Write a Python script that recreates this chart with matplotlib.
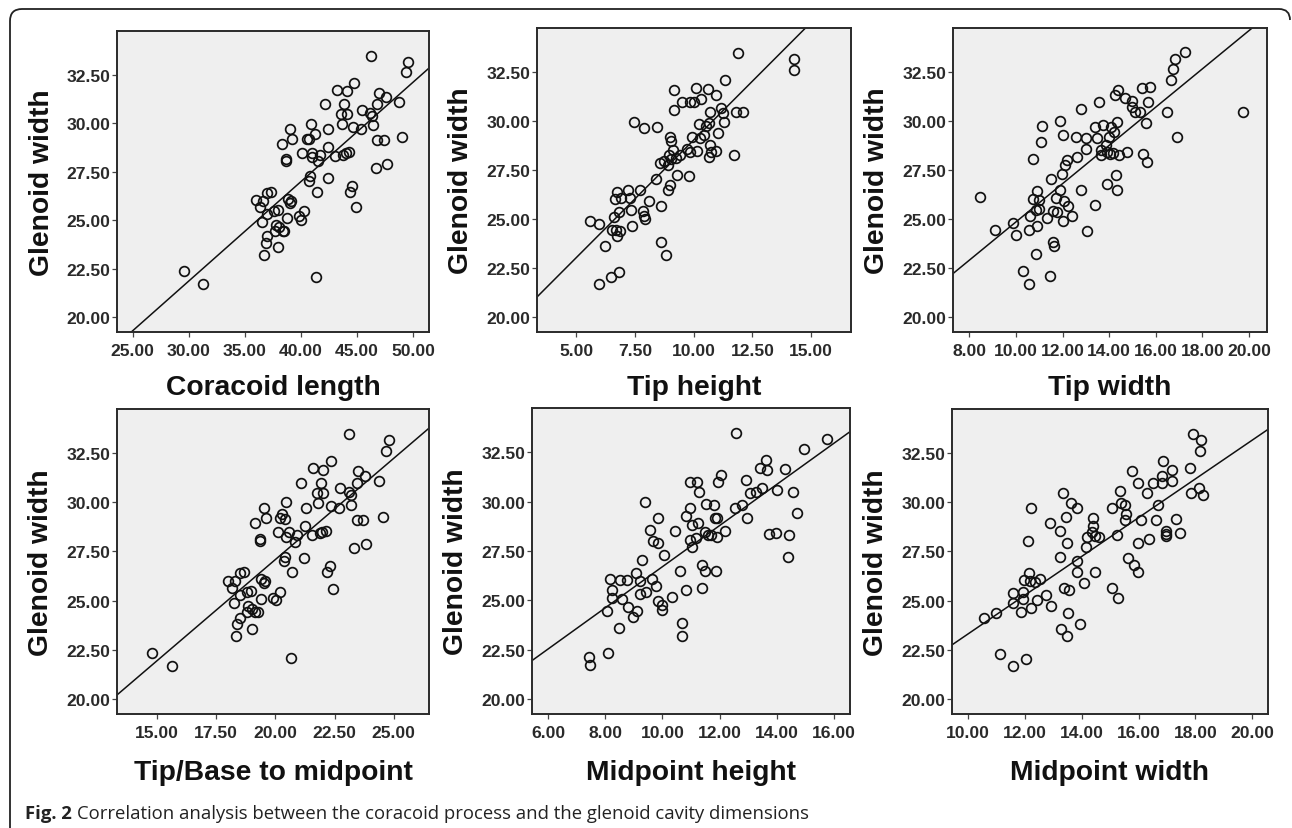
import matplotlib
matplotlib.use('Agg')
import matplotlib.pyplot as plt
import numpy as np
from matplotlib.path import Path
from matplotlib.patches import PathPatch

# Glenoid width vs coracoid dimensions
coracoid_length = [46.23, 49.49, 49.35, 44.71, 43.17, 44.12, 46.97, 47.53, 42.13, 43.82,
                   46.76, 48.75, 45.40, 43.53, 44.12, 46.14, 46.35, 43.62, 46.38, 44.65,
                   45.31, 40.91, 38.98, 42.43, 41.27, 40.50, 39.19, 40.71, 46.73, 47.42,
                   49.02, 38.27, 42.36, 40.12, 40.94, 41.69, 43.02, 43.76, 44.30, 44.00,
                   40.94, 41.47, 38.66, 38.66, 46.67, 47.62, 42.36, 40.80, 40.74, 44.56,
                   44.35, 41.39, 44.89, 35.96, 36.34, 36.64, 36.94, 37.29, 38.81, 39.10,
                   39.01, 37.59, 37.98, 36.94, 40.26, 39.82, 40.00, 38.75, 36.49, 37.74,
                   38.07, 37.68, 38.36, 38.51, 36.94, 36.85, 37.98, 36.73, 29.60, 31.29,
                   41.33]
gw_coracoid = [33.44, 33.13, 32.62, 32.07, 31.70, 31.64, 31.56, 31.35, 30.98, 30.99,
               30.99, 31.11, 30.70, 30.45, 30.45, 30.50, 30.39, 29.93, 29.88, 29.80,
               29.71, 29.98, 29.71, 29.68, 29.42, 29.16, 29.16, 29.16, 29.13, 29.13,
               29.28, 28.94, 28.79, 28.48, 28.48, 28.34, 28.31, 28.36, 28.53, 28.45,
               28.27, 28.05, 28.17, 28.05, 27.71, 27.91, 27.19, 27.28, 27.02, 26.77,
               26.47, 26.47, 25.65, 26.03, 25.70, 26.00, 26.39, 26.47, 26.11, 26.00,
               25.87, 25.48, 25.53, 25.31, 25.48, 25.19, 25.02, 25.10, 24.92, 24.74,
               24.62, 24.45, 24.42, 24.45, 24.16, 23.82, 23.60, 23.20, 22.35, 21.68,
               22.07]

tip_height = [11.87, 14.25, 14.28, 11.33, 9.15, 10.09, 10.61, 10.95, 9.50, 9.86,
              10.00, 10.31, 11.16, 11.24, 10.68, 9.18, 11.81, 12.10, 7.48, 7.88,
              8.44, 11.30, 10.21, 10.54, 10.64, 11.03, 8.98, 9.04, 9.93, 10.25,
              10.45, 10.68, 10.96, 10.75, 10.64, 10.14, 9.83, 9.72, 9.12, 9.40,
              9.26, 9.04, 8.94, 11.73, 8.75, 8.58, 8.90, 9.29, 9.79, 8.39,
              8.98, 8.89, 7.71, 7.22, 6.74, 7.31, 6.64, 6.91, 8.09, 8.63,
              7.35, 7.85, 7.90, 7.95, 6.84, 6.60, 5.61, 5.99, 7.39, 6.53,
              6.71, 6.86, 6.74, 6.25, 8.61, 8.82, 6.84, 6.50, 5.96]
gw_tip_height = [33.48, 33.17, 32.62, 32.09, 31.59, 31.71, 31.64, 31.34, 30.99, 30.99,
                 30.96, 31.11, 30.68, 30.39, 30.45, 30.57, 30.45, 30.45, 29.97, 29.67,
                 29.71, 29.97, 29.83, 29.76, 29.88, 29.40, 29.20, 28.97, 29.20, 29.11,
                 29.28, 28.80, 28.48, 28.42, 28.17, 28.46, 28.42, 28.56, 28.51, 28.25,
                 28.12, 28.08, 28.29, 28.29, 27.96, 27.88, 27.74, 27.23, 27.19, 27.02,
                 26.75, 26.46, 26.46, 26.46, 26.37, 26.08, 26.03, 26.06, 25.94, 25.65,
                 25.48, 25.43, 25.17, 25.00, 25.34, 25.09, 24.91, 24.74, 24.66, 24.44,
                 24.45, 24.40, 24.14, 23.60, 23.80, 23.17, 22.31, 22.04, 21.66]

tip_width = [17.24, 16.82, 16.74, 16.67, 14.39, 14.25, 15.39, 15.75, 14.68, 13.58,
             15.00, 14.96, 15.10, 15.31, 15.67, 16.46, 19.74, 12.78, 11.89, 11.11,
             13.39, 13.72, 14.06, 14.32, 15.57, 14.21, 14.01, 13.49, 13.01, 12.58,
             12.01, 16.92, 11.08, 13.85, 13.63, 13.89, 14.18, 13.01, 14.43, 14.75,
             15.43, 13.63, 14.03, 12.61, 12.21, 12.11, 10.72, 15.63, 11.99, 11.49,
             14.29, 13.89, 14.32, 12.78, 10.92, 11.89, 8.44, 10.72, 11.71, 12.08,
             11.01, 12.25, 13.41, 11.01, 10.87, 11.58, 11.75, 10.61, 11.32, 12.42,
             12.04, 9.87, 10.90, 9.11, 10.54, 13.04, 10.00, 11.61, 11.64, 10.87,
             10.30, 11.44, 10.54]
gw_tip_width = [33.51, 33.17, 32.65, 32.11, 31.59, 31.34, 31.68, 31.76, 31.16, 30.99,
                31.03, 30.74, 30.48, 30.48, 30.99, 30.48, 30.48, 30.60, 30.00, 29.74,
                29.71, 29.80, 29.71, 29.97, 29.88, 29.42, 29.20, 29.14, 29.14, 29.20,
                29.28, 29.20, 28.94, 28.77, 28.51, 28.43, 28.39, 28.56, 28.29, 28.43,
                28.34, 28.25, 28.34, 28.17, 28.00, 27.74, 28.08, 27.91, 27.28, 27.06,
                27.23, 26.80, 26.49, 26.49, 26.41, 26.46, 26.11, 26.03, 26.08, 25.94,
                25.98, 25.65, 25.72, 25.51, 25.48, 25.43, 25.34, 25.14, 25.05, 25.14,
                24.92, 24.78, 24.66, 24.44, 24.44, 24.40, 24.18, 23.85, 23.60, 23.20,
                22.35, 22.09, 21.66]

tip_base_mid = [23.10, 24.78, 24.68, 22.34, 21.58, 22.03, 23.51, 23.79, 21.08, 21.92,
                23.44, 24.38, 22.71, 21.75, 22.03, 23.13, 23.19, 21.82, 23.20, 22.36,
                22.67, 20.46, 19.53, 21.30, 20.27, 20.41, 19.60, 20.20, 23.44, 23.72,
                24.54, 19.15, 21.26, 20.13, 20.56, 20.91, 21.54, 21.89, 22.15, 21.96,
                20.46, 20.81, 19.36, 19.36, 23.33, 23.82, 21.22, 20.42, 20.37, 22.29,
                22.20, 20.70, 22.43, 18.00, 18.16, 18.31, 18.49, 18.69, 19.39, 19.57,
                19.50, 18.80, 18.97, 18.49, 20.18, 19.89, 20.01, 19.39, 18.24, 18.83,
                19.01, 18.80, 19.16, 19.25, 18.49, 18.40, 19.01, 18.35, 14.79, 15.63,
                20.67]
gw_tip_base_mid = [33.47, 33.15, 32.62, 32.11, 31.73, 31.65, 31.60, 31.36, 30.97, 30.97,
                   30.97, 31.09, 30.71, 30.46, 30.46, 30.51, 30.37, 29.95, 29.86, 29.83,
                   29.73, 30.00, 29.69, 29.69, 29.39, 29.15, 29.18, 29.18, 29.10, 29.10,
                   29.27, 28.93, 28.79, 28.47, 28.47, 28.33, 28.33, 28.42, 28.55, 28.50,
                   28.25, 28.00, 28.16, 28.03, 27.70, 27.87, 27.18, 27.23, 27.01, 26.77,
                   26.46, 26.46, 25.61, 26.00, 25.66, 25.99, 26.38, 26.46, 26.12, 26.00,
                   25.90, 25.44, 25.49, 25.27, 25.44, 25.14, 25.02, 25.10, 24.90, 24.73,
                   24.59, 24.42, 24.42, 24.42, 24.13, 23.79, 23.57, 23.20, 22.33, 21.67,
                   22.07]

mid_height = [12.57, 15.77, 14.95, 13.62, 13.41, 13.67, 14.29, 12.04, 10.96, 11.22,
              11.93, 12.94, 11.29, 13.47, 13.06, 13.29, 14.00, 14.58, 9.38, 10.98,
              11.52, 11.81, 12.54, 12.77, 14.72, 9.83, 10.81, 11.02, 11.25, 11.83,
              11.92, 12.97, 9.56, 10.43, 12.18, 11.48, 11.58, 11.69, 13.74, 13.96,
              14.44, 11.92, 9.68, 9.85, 10.98, 11.19, 11.02, 10.06, 9.30, 14.40,
              11.37, 11.48, 10.61, 11.87, 9.07, 8.18, 8.51, 8.77, 9.23, 9.65,
              9.76, 8.22, 9.21, 9.42, 8.25, 8.57, 10.84, 11.37, 10.34, 9.85,
              9.97, 10.00, 8.07, 8.80, 9.12, 8.98, 8.47, 10.69, 10.69, 8.10,
              7.42, 7.48]
gw_mid_height = [33.50, 33.18, 32.65, 32.11, 31.72, 31.60, 31.65, 31.35, 31.01, 31.01,
                 31.01, 31.09, 30.50, 30.67, 30.42, 30.47, 30.58, 30.47, 29.99, 29.69,
                 29.86, 29.82, 29.69, 29.82, 29.40, 29.18, 29.28, 28.84, 28.94, 29.18,
                 29.18, 29.18, 28.58, 28.52, 28.52, 28.47, 28.30, 28.30, 28.35, 28.42,
                 28.30, 28.21, 27.99, 27.91, 28.04, 28.16, 27.70, 27.28, 27.06, 27.19,
                 26.81, 26.47, 26.48, 26.48, 26.40, 26.06, 26.01, 26.01, 25.96, 26.09,
                 25.70, 25.50, 25.33, 25.42, 25.13, 25.04, 25.53, 25.64, 25.16, 24.94,
                 24.77, 24.48, 24.43, 24.65, 24.43, 24.14, 23.58, 23.84, 23.21, 22.33,
                 22.11, 21.69]

mid_width = [17.92, 18.21, 18.15, 16.87, 17.80, 17.17, 15.78, 16.81, 16.51, 17.19,
             15.99, 16.84, 15.35, 16.28, 13.33, 18.13, 17.86, 18.27, 13.61, 12.22,
             13.82, 15.08, 15.38, 15.52, 16.67, 13.44, 14.41, 15.56, 15.52, 16.07,
             16.60, 17.33, 12.89, 13.22, 14.41, 14.35, 14.47, 14.62, 14.20, 15.23,
             16.96, 16.96, 16.96, 17.47, 12.11, 13.50, 15.99, 16.37, 14.15, 13.24,
             15.64, 13.85, 15.85, 15.99, 13.82, 14.48, 12.13, 11.98, 12.19, 12.54,
             12.36, 14.08, 13.39, 13.57, 15.08, 15.29, 11.60, 11.92, 12.74, 11.95,
             12.42, 11.57, 12.92, 12.21, 11.86, 10.98, 10.55, 13.51, 13.27, 13.94,
             13.47, 11.13, 12.04, 11.60]
gw_mid_width = [33.47, 33.15, 32.62, 32.11, 31.73, 31.65, 31.60, 31.36, 30.97, 31.09,
                30.97, 30.97, 30.58, 30.46, 30.46, 30.71, 30.46, 30.37, 29.98, 29.69,
                29.69, 29.73, 29.95, 29.86, 29.86, 29.27, 29.18, 29.39, 29.10, 29.10,
                29.10, 29.15, 28.93, 28.54, 28.79, 28.50, 28.28, 28.25, 28.25, 28.33,
                28.54, 28.37, 28.28, 28.42, 28.04, 27.94, 27.91, 28.13, 27.74, 27.23,
                27.18, 27.01, 26.80, 26.46, 26.46, 26.46, 26.41, 26.03, 25.99, 26.09,
                25.95, 25.90, 25.65, 25.53, 25.66, 25.14, 25.41, 25.44, 25.27, 25.10,
                25.02, 24.90, 24.73, 24.64, 24.42, 24.39, 24.13, 24.37, 23.57, 23.79,
                23.18, 22.30, 22.04, 21.67]

x_labels = ['Coracoid length', 'Tip height', 'Tip width',
            'Tip/Base to midpoint', 'Midpoint height', 'Midpoint width']
x_ticks = [[25, 30, 35, 40, 45, 50], [5, 7.5, 10, 12.5, 15], [8, 10, 12, 14, 16, 18, 20],
           [15, 17.5, 20, 22.5, 25], [6, 8, 10, 12, 14, 16], [10, 12, 14, 16, 18, 20]]
y_ticks = [20, 22.5, 25, 27.5, 30, 32.5]
# fit line (intercept, slope) as drawn in the figure
fit_lines = [(6.47, 0.513), (17.0, 1.203), (15.08, 0.977),
             (6.49, 1.030), (16.26, 1.044), (13.43, 0.987)]
caption = 'Correlation analysis between the coracoid process and the glenoid cavity dimensions'

xs = [coracoid_length, tip_height, tip_width, tip_base_mid, mid_height, mid_width]
ys = [gw_coracoid, gw_tip_height, gw_tip_width, gw_tip_base_mid, gw_mid_height, gw_mid_width]

W, H = 1292, 829
fig = plt.figure(figsize=(W/100, H/100), dpi=100)

# panel boxes in pixels: left, top, right, bottom
boxes = [(117, 32, 429, 333), (537, 29, 851, 333), (953, 29, 1267, 333),
         (117, 410, 429, 715), (532, 409, 850, 715), (952, 410, 1268, 715)]
xlims = [(23.6, 51.4), (3.34, 16.69), (7.30, 20.77),
         (13.31, 26.49), (5.44, 16.56), (9.44, 20.55)]
ylab_x = [42, 461, 877, 41, 456, 876]
xlab_y = [395, 395, 395, 780, 780, 780]

lab_font = dict(family='Liberation Sans', fontweight='bold', fontsize=20.3, color='#111111')

for i in range(6):
    l, t, r, b = boxes[i]
    ax = fig.add_axes([l/W, 1-b/H, (r-l)/W, (b-t)/H])
    ax.set_facecolor('#efefef')
    ax.plot(xs[i], ys[i], 'o', mfc='none', mec='#111111', ms=7.0, mew=1.25, zorder=3)
    x0, x1 = xlims[i]
    xx = np.array([x0, x1])
    a, k = fit_lines[i]
    ax.plot(xx, a + k*xx, '-', color='#111111', lw=1.1, zorder=2)
    ax.set_xlim(x0, x1)
    ax.set_ylim(19.23, 34.75)
    ax.set_xticks(x_ticks[i])
    ax.set_yticks(y_ticks)
    ax.set_xticklabels(['%.2f' % v for v in x_ticks[i]])
    ax.set_yticklabels(['%.2f' % v for v in y_ticks])
    for sp in ax.spines.values():
        sp.set_linewidth(1.4)
        sp.set_color('#2a2a2a')
    ax.tick_params(axis='both', length=3.5, width=0.9, color='#444444',
                   labelsize=12.6, labelcolor='#2a2a2a')
    ax.tick_params(axis='x', pad=4.5)
    ax.tick_params(axis='y', pad=1.5)
    for lab in ax.get_xticklabels() + ax.get_yticklabels():
        lab.set_family('Liberation Sans')
        lab.set_fontweight('bold')
    fig.text(ylab_x[i]/W, 1-((t+b)/2)/H, 'Glenoid width', rotation=90,
             ha='center', va='center', **lab_font)
    fig.text(((l+r)/2)/W, 1-xlab_y[i]/H, x_labels[i], ha='center', va='baseline', **lab_font)

# outer frame, open at bottom and right
fx = lambda v: v/W
fy = lambda v: 1-v/H
verts = [(fx(10), fy(829)), (fx(10), fy(22)), (fx(10), fy(10)), (fx(22), fy(10)),
         (fx(1279), fy(10)), (fx(1290), fy(10)), (fx(1290), fy(21))]
codes = [Path.MOVETO, Path.LINETO, Path.CURVE3, Path.CURVE3,
         Path.LINETO, Path.CURVE3, Path.CURVE3]
fig.patches.append(PathPatch(Path(verts, codes), transform=fig.transFigure,
                             fill=False, lw=1.3, ec='#222222'))

cap_font = dict(family='Open Sans', fontsize=13.3, color='#222222', va='baseline')
t1 = fig.text(25/W, fy(819), 'Fig. 2', fontweight='bold', **cap_font)
fig.canvas.draw()
bb = t1.get_window_extent()
fig.text(bb.x1/W + 5/W, fy(819), caption, **cap_font)

fig.savefig('out.png', dpi=100)
